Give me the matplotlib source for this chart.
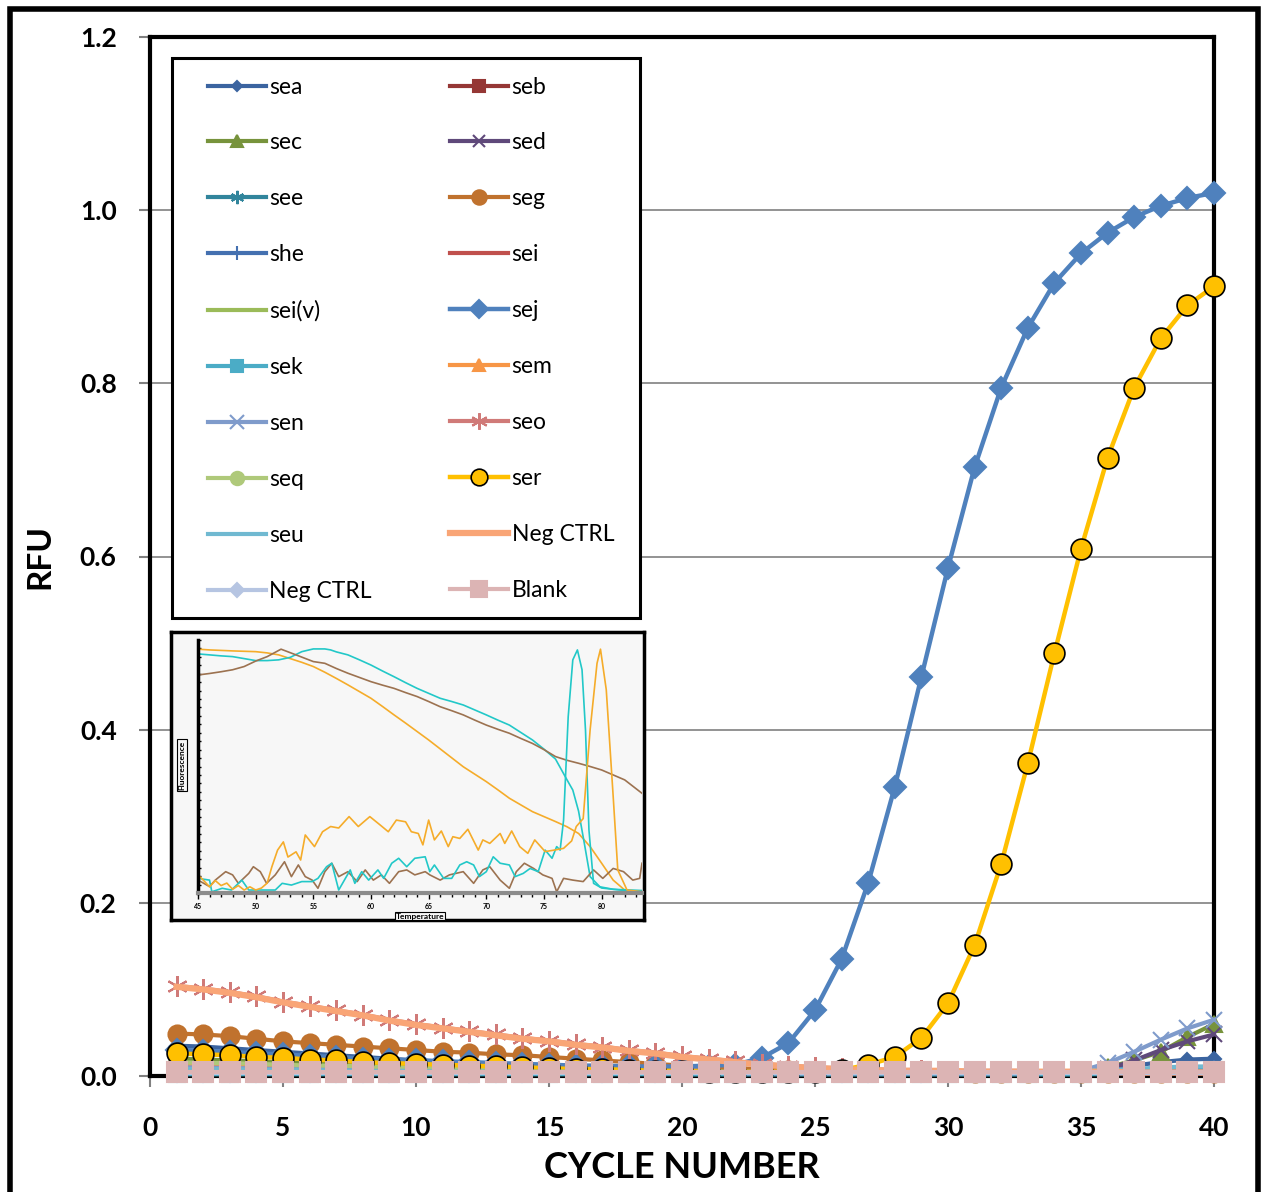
import matplotlib
matplotlib.use("Agg")
import matplotlib.pyplot as plt
from matplotlib.patches import Rectangle

W, H = 1267, 1192
plt.rcParams['font.family'] = ['Lato', 'DejaVu Sans']

# ---- main amplification data (cycle 1..40) ----
cycles = list(range(1, 41))

sea = [0.035, 0.034, 0.032, 0.030, 0.028, 0.026, 0.024, 0.022, 0.020, 0.018,
       0.017, 0.015, 0.014, 0.012, 0.011, 0.010, 0.009, 0.008, 0.007, 0.006,
       0.006, 0.005, 0.005, 0.004, 0.004, 0.004, 0.004, 0.004, 0.004, 0.004,
       0.004, 0.005, 0.005, 0.005, 0.006, 0.008, 0.012, 0.016, 0.019, 0.020]
seb = [0.010, 0.010, 0.009, 0.009, 0.008, 0.008, 0.007, 0.007, 0.006, 0.006,
       0.006, 0.005, 0.005, 0.005, 0.004, 0.004, 0.004, 0.004, 0.003, 0.003,
       0.003, 0.003, 0.003, 0.003, 0.003, 0.003, 0.003, 0.003, 0.003, 0.003,
       0.003, 0.003, 0.003, 0.003, 0.003, 0.003, 0.004, 0.004, 0.004, 0.004]
sec = [0.020, 0.019, 0.018, 0.017, 0.016, 0.015, 0.014, 0.013, 0.012, 0.011,
       0.010, 0.009, 0.009, 0.008, 0.007, 0.007, 0.006, 0.006, 0.005, 0.005,
       0.004, 0.004, 0.004, 0.004, 0.003, 0.003, 0.003, 0.003, 0.003, 0.003,
       0.003, 0.003, 0.003, 0.004, 0.005, 0.010, 0.018, 0.028, 0.045, 0.060]
sed = [0.015, 0.014, 0.014, 0.013, 0.012, 0.011, 0.011, 0.010, 0.009, 0.009,
       0.008, 0.008, 0.007, 0.007, 0.006, 0.006, 0.005, 0.005, 0.005, 0.004,
       0.004, 0.004, 0.004, 0.003, 0.003, 0.003, 0.003, 0.003, 0.003, 0.003,
       0.003, 0.003, 0.003, 0.004, 0.005, 0.008, 0.018, 0.030, 0.040, 0.048]
see = [0.006, 0.006, 0.006, 0.005, 0.005, 0.005, 0.005, 0.004, 0.004, 0.004,
       0.004, 0.004, 0.003, 0.003, 0.003, 0.003, 0.003, 0.003, 0.003, 0.002,
       0.002, 0.002, 0.002, 0.002, 0.002, 0.002, 0.002, 0.002, 0.002, 0.002,
       0.002, 0.002, 0.002, 0.002, 0.002, 0.002, 0.003, 0.003, 0.003, 0.003]
seg = [0.049, 0.048, 0.046, 0.043, 0.040, 0.038, 0.036, 0.034, 0.032, 0.030,
       0.028, 0.027, 0.025, 0.024, 0.022, 0.020, 0.018, 0.016, 0.014, 0.012,
       0.010, 0.009, 0.008, 0.007, 0.006, 0.006, 0.005, 0.005, 0.005, 0.005,
       0.004, 0.004, 0.004, 0.004, 0.004, 0.004, 0.004, 0.004, 0.004, 0.004]
she = [0.030, 0.029, 0.027, 0.026, 0.024, 0.023, 0.021, 0.020, 0.018, 0.017,
       0.015, 0.014, 0.013, 0.012, 0.011, 0.010, 0.009, 0.008, 0.007, 0.006,
       0.006, 0.005, 0.005, 0.004, 0.004, 0.004, 0.004, 0.004, 0.004, 0.004,
       0.004, 0.004, 0.004, 0.004, 0.004, 0.005, 0.006, 0.007, 0.008, 0.009]
sei = [0.006, 0.006, 0.006, 0.006, 0.005, 0.005, 0.005, 0.005, 0.005, 0.004,
       0.004, 0.004, 0.004, 0.004, 0.004, 0.003, 0.003, 0.003, 0.003, 0.003,
       0.003, 0.003, 0.003, 0.003, 0.003, 0.003, 0.003, 0.003, 0.003, 0.003,
       0.003, 0.003, 0.003, 0.003, 0.003, 0.003, 0.003, 0.003, 0.003, 0.003]
sei_v = [0.012, 0.012, 0.011, 0.011, 0.010, 0.010, 0.009, 0.009, 0.008, 0.008,
         0.007, 0.007, 0.006, 0.006, 0.006, 0.005, 0.005, 0.005, 0.004, 0.004,
         0.004, 0.004, 0.004, 0.003, 0.003, 0.003, 0.003, 0.003, 0.003, 0.003,
         0.003, 0.003, 0.003, 0.003, 0.003, 0.004, 0.004, 0.005, 0.005, 0.006]
sej = [0.030, 0.029, 0.028, 0.026, 0.025, 0.023, 0.022, 0.020, 0.019, 0.018,
       0.017, 0.016, 0.015, 0.014, 0.013, 0.012, 0.012, 0.011, 0.011, 0.011,
       0.012, 0.013, 0.021, 0.038, 0.076, 0.135, 0.223, 0.334, 0.461, 0.587,
       0.703, 0.795, 0.864, 0.916, 0.950, 0.974, 0.992, 1.005, 1.014, 1.020]
sek = [0.002, 0.002, 0.002, 0.002, 0.002, 0.002, 0.002, 0.002, 0.002, 0.002,
       0.002, 0.002, 0.002, 0.002, 0.002, 0.002, 0.002, 0.002, 0.002, 0.002,
       0.002, 0.002, 0.002, 0.002, 0.002, 0.002, 0.002, 0.002, 0.002, 0.002,
       0.002, 0.002, 0.002, 0.002, 0.002, 0.003, 0.004, 0.005, 0.006, 0.007]
sem = [0.014, 0.013, 0.013, 0.012, 0.011, 0.011, 0.010, 0.010, 0.009, 0.009,
       0.008, 0.008, 0.007, 0.007, 0.006, 0.006, 0.006, 0.005, 0.005, 0.005,
       0.004, 0.004, 0.004, 0.004, 0.004, 0.004, 0.004, 0.004, 0.004, 0.004,
       0.004, 0.004, 0.004, 0.004, 0.004, 0.004, 0.004, 0.004, 0.004, 0.004]
sen = [0.010, 0.010, 0.009, 0.009, 0.008, 0.008, 0.008, 0.007, 0.007, 0.006,
       0.006, 0.006, 0.005, 0.005, 0.005, 0.005, 0.004, 0.004, 0.004, 0.004,
       0.004, 0.003, 0.003, 0.003, 0.003, 0.003, 0.003, 0.003, 0.003, 0.003,
       0.003, 0.003, 0.003, 0.004, 0.006, 0.015, 0.028, 0.042, 0.055, 0.065]
seo = [0.104, 0.101, 0.097, 0.092, 0.086, 0.081, 0.076, 0.071, 0.065, 0.060,
       0.056, 0.052, 0.048, 0.044, 0.041, 0.037, 0.034, 0.030, 0.027, 0.023,
       0.020, 0.017, 0.014, 0.012, 0.010, 0.009, 0.008, 0.007, 0.007, 0.006,
       0.006, 0.006, 0.006, 0.005, 0.005, 0.005, 0.005, 0.005, 0.005, 0.005]
seq = [0.016, 0.015, 0.015, 0.014, 0.013, 0.012, 0.012, 0.011, 0.010, 0.010,
       0.009, 0.008, 0.008, 0.007, 0.007, 0.006, 0.006, 0.005, 0.005, 0.005,
       0.004, 0.004, 0.004, 0.004, 0.004, 0.004, 0.004, 0.004, 0.004, 0.004,
       0.004, 0.004, 0.004, 0.004, 0.004, 0.004, 0.004, 0.004, 0.004, 0.004]
ser = [0.026, 0.025, 0.024, 0.022, 0.021, 0.019, 0.018, 0.016, 0.015, 0.014,
       0.013, 0.012, 0.011, 0.010, 0.009, 0.008, 0.008, 0.007, 0.006, 0.006,
       0.005, 0.005, 0.005, 0.005, 0.005, 0.007, 0.013, 0.022, 0.044, 0.084,
       0.151, 0.245, 0.361, 0.488, 0.609, 0.714, 0.795, 0.852, 0.890, 0.912]
seu = [0.008, 0.008, 0.008, 0.007, 0.007, 0.007, 0.006, 0.006, 0.006, 0.006,
       0.005, 0.005, 0.005, 0.005, 0.005, 0.005, 0.004, 0.004, 0.004, 0.004,
       0.004, 0.004, 0.004, 0.004, 0.004, 0.004, 0.004, 0.004, 0.004, 0.004,
       0.004, 0.004, 0.005, 0.005, 0.006, 0.007, 0.008, 0.010, 0.011, 0.011]
neg_ctrl_1 = [0.103, 0.100, 0.096, 0.091, 0.085, 0.080, 0.075, 0.070, 0.064, 0.059,
              0.055, 0.051, 0.047, 0.043, 0.040, 0.036, 0.033, 0.029, 0.026, 0.022,
              0.019, 0.016, 0.013, 0.011, 0.009, 0.008, 0.007, 0.006, 0.006, 0.006,
              0.005, 0.005, 0.005, 0.005, 0.005, 0.005, 0.004, 0.004, 0.004, 0.004]
neg_ctrl_2 = [0.003, 0.003, 0.003, 0.003, 0.003, 0.003, 0.003, 0.003, 0.003, 0.003,
              0.003, 0.003, 0.003, 0.003, 0.003, 0.003, 0.003, 0.003, 0.003, 0.003,
              0.003, 0.003, 0.003, 0.003, 0.003, 0.003, 0.003, 0.003, 0.003, 0.003,
              0.003, 0.003, 0.003, 0.003, 0.003, 0.003, 0.003, 0.003, 0.003, 0.003]
blank = [0.005, 0.005, 0.005, 0.005, 0.005, 0.005, 0.005, 0.005, 0.005, 0.005,
         0.005, 0.005, 0.005, 0.005, 0.005, 0.005, 0.005, 0.005, 0.005, 0.005,
         0.005, 0.005, 0.005, 0.005, 0.005, 0.005, 0.005, 0.005, 0.005, 0.005,
         0.005, 0.005, 0.005, 0.005, 0.005, 0.005, 0.005, 0.005, 0.005, 0.005]

# (label, values, colour, marker, markersize, linewidth, marker edge colour)
series = [
    ("sea", sea, "#3B64A0", "D", 7, 3.0, None),
    ("seb", seb, "#953735", "s", 10, 3.0, None),
    ("sec", sec, "#77933C", "^", 11, 3.0, None),
    ("sed", sed, "#5F497A", "x", 11, 3.0, None),
    ("see", see, "#31859C", (6, 2, 0), 12, 3.0, None),
    ("seg", seg, "#C0722E", "o", 13, 3.0, None),
    ("she", she, "#4470B0", "+", 12, 3.0, None),
    ("sei", sei, "#C0504D", None, 0, 3.0, None),
    ("sei(v)", sei_v, "#9BBB59", None, 0, 3.0, None),
    ("sej", sej, "#4F81BD", "D", 11, 3.2, None),
    ("sek", sek, "#4BACC6", "s", 11, 3.0, None),
    ("sem", sem, "#F79646", "^", 11, 3.0, None),
    ("sen", sen, "#7F9BCB", "x", 12, 3.0, None),
    ("seo", seo, "#D07A78", (6, 2, 0), 15, 3.0, None),
    ("seq", seq, "#AFC97A", "o", 12, 3.0, None),
    ("ser", ser, "#FFC000", "o", 15, 3.2, "black"),
    ("seu", seu, "#70B9D1", None, 0, 3.0, None),
    ("Neg CTRL", neg_ctrl_1, "#F9A576", None, 0, 4.5, None),
    ("Neg CTRL", neg_ctrl_2, "#B6C5E2", "D", 9, 3.0, None),
    ("Blank", blank, "#DCB4B4", "s", 14, 3.0, None),
]

# ---- inset melt-curve data (temperature, relative fluorescence) ----
orange_raw_t = [45, 46, 48, 50, 51, 52, 53, 54, 55, 56, 57, 58, 59, 60, 61, 62, 63, 64,
                65, 66, 67, 68, 69, 70, 71, 72, 73, 74, 75, 76, 77, 78, 79, 80, 81, 82,
                83, 83.5]
orange_raw_v = [0.983, 0.980, 0.976, 0.973, 0.968, 0.960, 0.945, 0.930, 0.913, 0.890,
                0.865, 0.839, 0.812, 0.785, 0.752, 0.718, 0.685, 0.651, 0.617, 0.581,
                0.545, 0.509, 0.479, 0.449, 0.416, 0.382, 0.355, 0.328, 0.308, 0.288,
                0.267, 0.240, 0.187, 0.120, 0.052, 0.012, 0.003, 0.0]
cyan_raw_t = [45, 46, 47, 48, 49, 50, 51, 52, 53, 54, 55, 56, 56.5, 57, 58, 59, 60, 61,
              62, 63, 64, 65, 66, 67, 68, 69, 70, 71, 72, 73, 74, 75, 76, 77, 77.5, 78,
              78.5, 79, 79.85, 81, 83.5]
cyan_raw_v = [0.964, 0.960, 0.956, 0.953, 0.945, 0.937, 0.937, 0.940, 0.950, 0.973,
              0.984, 0.984, 0.980, 0.972, 0.960, 0.940, 0.919, 0.895, 0.872, 0.848,
              0.825, 0.805, 0.785, 0.772, 0.758, 0.738, 0.718, 0.697, 0.677, 0.647,
              0.617, 0.580, 0.540, 0.456, 0.415, 0.330, 0.200, 0.066, 0.025, 0.015,
              0.010]
brown_raw_t = [45, 46, 47, 48, 49, 50, 51, 52.2, 53.5, 55, 56, 57, 58, 59, 60, 61, 62,
               63, 64, 65, 66, 67, 68, 69, 70, 71, 72, 73, 74, 75, 76, 77, 78, 79, 80,
               81, 82, 83, 83.5]
brown_raw_v = [0.879, 0.885, 0.892, 0.900, 0.913, 0.935, 0.953, 0.983, 0.960, 0.933,
               0.926, 0.905, 0.886, 0.869, 0.852, 0.838, 0.825, 0.808, 0.792, 0.772,
               0.751, 0.735, 0.718, 0.697, 0.677, 0.660, 0.644, 0.623, 0.603, 0.578,
               0.550, 0.535, 0.523, 0.510, 0.496, 0.476, 0.456, 0.420, 0.402]
orange_der_t = [45.0, 45.5, 46.0, 46.5, 47.0, 47.5, 48.0, 48.5, 49.0, 49.5, 50.0, 50.5,
                51.0, 51.4, 51.9, 52.4, 52.8, 53.5, 53.9, 54.3, 55.1, 55.8, 56.5, 57.2,
                58.1, 58.9, 59.9, 60.8, 61.5, 62.2, 63.0, 63.5, 64.1, 64.5, 65.0, 65.5,
                66.1, 66.7, 67.1, 67.7, 68.4, 69.3, 69.7, 70.3, 71.2, 71.6, 72.2, 72.9,
                73.6, 74.2, 75.1, 75.9, 76.7, 77.4, 77.8, 78.4, 79.0, 79.6, 79.9, 80.4,
                81.0, 81.4, 82.2, 83.5]
orange_der_v = [0.073, 0.050, 0.025, 0.050, 0.030, 0.040, 0.015, 0.030, 0.012, 0.025,
                0.012, 0.020, 0.040, 0.105, 0.173, 0.206, 0.145, 0.166, 0.133, 0.234,
                0.187, 0.247, 0.268, 0.262, 0.308, 0.268, 0.308, 0.274, 0.247, 0.294,
                0.287, 0.247, 0.240, 0.194, 0.294, 0.214, 0.250, 0.187, 0.227, 0.220,
                0.257, 0.173, 0.214, 0.200, 0.240, 0.200, 0.250, 0.187, 0.160, 0.214,
                0.167, 0.173, 0.180, 0.210, 0.268, 0.300, 0.657, 0.926, 0.983, 0.820,
                0.390, 0.093, 0.012, 0.005]
cyan_der_t = [45.0, 46.0, 46.2, 47.1, 47.9, 48.8, 49.4, 50.5, 51.7, 52.3, 53.1, 54.0,
              54.9, 55.4, 56.15, 56.6, 57.2, 58.2, 58.6, 59.2, 59.8, 60.6, 61.1, 61.8,
              62.4, 63.1, 63.8, 64.7, 65.1, 65.5, 66.3, 67.0, 67.7, 68.3, 68.9, 69.4,
              70.0, 70.6, 71.2, 72.0, 72.5, 73.2, 73.8, 74.5, 75.1, 75.7, 76.1, 76.4,
              76.7, 77.1, 77.5, 77.9, 78.3, 78.6, 78.9, 79.3, 80.0, 81.0, 82.0, 83.5]
cyan_der_v = [0.059, 0.052, 0.005, 0.019, 0.012, 0.052, 0.012, 0.012, 0.012, 0.039,
              0.032, 0.046, 0.046, 0.059, 0.106, 0.120, 0.012, 0.093, 0.039, 0.086,
              0.052, 0.093, 0.059, 0.120, 0.140, 0.106, 0.140, 0.146, 0.086, 0.113,
              0.059, 0.059, 0.113, 0.126, 0.113, 0.066, 0.086, 0.146, 0.120, 0.113,
              0.066, 0.079, 0.099, 0.086, 0.173, 0.140, 0.187, 0.173, 0.294, 0.710,
              0.940, 0.980, 0.900, 0.657, 0.254, 0.039, 0.020, 0.015, 0.010, 0.005]
brown_der_t = [45.0, 46.0, 46.5, 47.4, 48.0, 48.5, 49.4, 49.8, 50.4, 50.95, 51.7, 52.5,
               53.1, 53.7, 54.3, 54.9, 55.4, 56.0, 56.6, 57.2, 58.0, 58.8, 59.5, 60.2,
               60.9, 61.6, 62.4, 63.1, 63.8, 64.7, 65.1, 66.0, 66.8, 68.0, 68.9, 69.7,
               70.3, 71.2, 72.0, 72.6, 73.3, 74.1, 74.9, 75.7, 76.1, 76.7, 77.5, 78.4,
               79.3, 80.1, 81.0, 81.9, 82.7, 83.3, 83.5]
brown_der_v = [0.052, 0.026, 0.052, 0.086, 0.073, 0.039, 0.079, 0.106, 0.086, 0.039,
               0.073, 0.126, 0.066, 0.113, 0.066, 0.052, 0.019, 0.086, 0.120, 0.066,
               0.086, 0.046, 0.093, 0.052, 0.073, 0.039, 0.086, 0.093, 0.073, 0.086,
               0.073, 0.052, 0.073, 0.086, 0.039, 0.093, 0.106, 0.052, 0.019, 0.086,
               0.120, 0.099, 0.073, 0.059, 0.005, 0.059, 0.052, 0.046, 0.093, 0.059,
               0.099, 0.086, 0.052, 0.059, 0.120]

inset_orange = "#F5AC2A"
inset_cyan = "#22C8C8"
inset_brown = "#9C7250"


def fig_rect(x0, y0, x1, y1):
    """pixel box (top-left origin) -> figure fraction [l, b, w, h]"""
    return [x0 / W, 1 - y1 / H, (x1 - x0) / W, (y1 - y0) / H]


fig = plt.figure(figsize=(W / 100, H / 100), dpi=100)

# outer border
fig.patches.append(Rectangle((9.5 / W, -0.02), (1257.5 - 9.5) / W, 1 - 9.5 / H + 0.02,
                             transform=fig.transFigure, fill=False,
                             edgecolor="black", linewidth=4, zorder=0))

ax = fig.add_axes(fig_rect(150, 37, 1214, 1076))
handles = []
for label, vals, color, marker, ms, lw, mec in series:
    line, = ax.plot(cycles, vals, color=color, lw=lw, marker=marker, ms=ms,
                    mec=mec if mec else color, mew=1.2 if mec else 1.5,
                    label=label, clip_on=False, zorder=3)
    handles.append(line)

ax.set_xlim(0, 40)
ax.set_ylim(0, 1.2)
ax.set_xticks(range(0, 41, 5))
ax.set_yticks([0.0, 0.2, 0.4, 0.6, 0.8, 1.0, 1.2])
ax.set_yticklabels([f"{v:.1f}" for v in [0.0, 0.2, 0.4, 0.6, 0.8, 1.0, 1.2]])
ax.yaxis.grid(True, color="#808080", lw=1.2)
ax.set_axisbelow(True)
for s in ax.spines.values():
    s.set_linewidth(3)
    s.set_color("black")
ax.tick_params(axis="both", length=8, width=1.5, color="#808080", direction="out",
               labelsize=19)
ax.tick_params(axis="y", pad=16)
ax.tick_params(axis="x", pad=21)
for t in ax.get_xticklabels() + ax.get_yticklabels():
    t.set_fontweight("bold")
ax.set_xlabel("CYCLE NUMBER", fontsize=26, fontweight="bold", labelpad=8)
ax.set_ylabel("RFU", fontsize=24, fontweight="bold", labelpad=18)

# legend, Excel style row-major order
leg_handles = handles[0::2] + handles[1::2]
leg_labels = [h.get_label() for h in leg_handles]
leg = fig.legend(leg_handles, leg_labels, ncol=2, loc="upper left",
                 bbox_to_anchor=(172 / W, 1 - 41 / H), frameon=False,
                 fontsize=16.5, borderpad=1.55, borderaxespad=0,
                 handlelength=2.55, handletextpad=0.15, labelspacing=1.525,
                 columnspacing=3.4, markerscale=0.8)
fig.patches.append(Rectangle((172 / W, 1 - 618 / H), (640 - 172) / W, (618 - 58) / H,
                             transform=fig.transFigure, facecolor="white",
                             edgecolor="black", linewidth=2.2, zorder=2))
leg.set_zorder(3)

# inset melt curve picture
frame = fig.add_axes(fig_rect(171, 632, 644, 920))
frame.set_facecolor("#F7F7F7")
frame.set_xticks([])
frame.set_yticks([])
for s in frame.spines.values():
    s.set_linewidth(2.5)
    s.set_color("black")

ins = fig.add_axes(fig_rect(198, 640, 642, 893))
ins.patch.set_visible(False)
for tt, vv, c in [(orange_raw_t, orange_raw_v, inset_orange),
                  (cyan_raw_t, cyan_raw_v, inset_cyan),
                  (brown_raw_t, brown_raw_v, inset_brown),
                  (brown_der_t, brown_der_v, inset_brown),
                  (cyan_der_t, cyan_der_v, inset_cyan),
                  (orange_der_t, orange_der_v, inset_orange)]:
    ins.plot(tt, vv, color=c, lw=1.2)
ins.set_xlim(45, 83.5)
ins.set_ylim(0, 1.02)
ins.spines["top"].set_visible(False)
ins.spines["right"].set_visible(False)
ins.spines["left"].set_linewidth(2.5)
ins.spines["left"].set_color("black")
ins.spines["bottom"].set_linewidth(3)
ins.spines["bottom"].set_color("#8C8C8C")
ins.set_xticks(range(45, 81, 5))
ins.set_xticks(range(45, 84), minor=True)
ins.set_yticks([i * 0.034 for i in range(31)])
ins.set_yticklabels([])
ins.tick_params(axis="x", which="major", length=4, width=1, color="black",
                labelsize=5, pad=3)
ins.tick_params(axis="x", which="minor", length=3, width=1, color="black")
ins.tick_params(axis="y", length=2, width=1, color="black", direction="in")
for t in ins.get_xticklabels():
    t.set_fontweight("bold")
ins.set_xlabel("Temperature", fontsize=6, fontweight="bold", labelpad=2,
               bbox=dict(boxstyle="square,pad=0.1", fc="#F7F7F7", ec="black", lw=0.8))
fig.text(182 / W, 1 - 765 / H, "Fluorescence", rotation=90, fontsize=6,
         fontweight="bold", ha="center", va="center",
         bbox=dict(boxstyle="square,pad=0.2", fc="#F7F7F7", ec="black", lw=0.8))

fig.savefig("out.png", dpi=100)
